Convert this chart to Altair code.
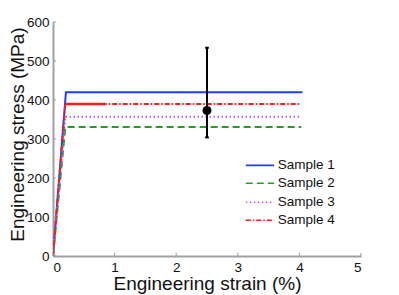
import altair as alt
import pandas as pd

samples = ["Sample 1", "Sample 2", "Sample 3", "Sample 4"]
colors = ["#1f3cff", "#22a022", "#b65cff", "#ff1a1a"]
dashes = [[1, 0], [7, 4], [1.5, 2.5], [5, 2, 1.5, 2]]
yield_strain = [0.21, 0.2, 0.2, 0.2]
yield_stress = [420, 331, 357, 390]
end_strain = [4.05, 4.03, 4.03, 4.03]

# dense (solid-looking) section of sample 4
s4_dense = [0.2, 0.85]

err_x = 2.5
err_mean = 373
err_low = 304
err_high = 534

xticks = [0, 1, 2, 3, 4, 5]
yticks = [0, 100, 200, 300, 400, 500, 600]

# legend placement (in data units of the axes)
leg_x0, leg_x1, leg_xt = 3.13, 3.59, 3.65
leg_y = [232.5, 186.5, 138, 91.5]

rows = []
for i, s in enumerate(samples):
    rows.append({"sample": s, "order": 0, "strain": 0.0, "stress": 0.0})
    rows.append({"sample": s, "order": 1, "strain": yield_strain[i], "stress": yield_stress[i]})
    rows.append({"sample": s, "order": 2, "strain": end_strain[i], "stress": yield_stress[i]})
df = pd.DataFrame(rows)

xs = alt.Scale(domain=[0, 5], nice=False)
ys = alt.Scale(domain=[0, 600], nice=False)
xax = alt.Axis(values=xticks, format="d", labelOverlap=False, title="Engineering strain (%)")
yax = alt.Axis(values=yticks, format="d", labelOverlap=False, title="Engineering stress (MPa)")
cscale = alt.Scale(domain=samples, range=colors)
dscale = alt.Scale(domain=samples, range=dashes)

lines = alt.Chart(df).mark_line(strokeWidth=2, clip=True).encode(
    x=alt.X("strain:Q", scale=xs, axis=xax),
    y=alt.Y("stress:Q", scale=ys, axis=yax),
    color=alt.Color("sample:N", scale=cscale, legend=None),
    strokeDash=alt.StrokeDash("sample:N", scale=dscale, legend=None),
    order="order:Q",
)

dense = alt.Chart(pd.DataFrame({"strain": s4_dense, "stress": [yield_stress[3]] * 2})).mark_line(
    color=colors[3], strokeWidth=2.5).encode(
    x=alt.X("strain:Q", scale=xs, axis=xax), y=alt.Y("stress:Q", scale=ys, axis=yax))

err_df = pd.DataFrame({"x": [err_x], "lo": [err_low], "hi": [err_high], "m": [err_mean]})
err_rule = alt.Chart(err_df).mark_rule(color="black", strokeWidth=2).encode(
    x=alt.X("x:Q", scale=xs, axis=xax), y=alt.Y("lo:Q", scale=ys, axis=yax), y2="hi:Q")
cap_df = pd.DataFrame({"x1": [err_x - 0.03] * 2, "x2": [err_x + 0.03] * 2, "y": [err_low, err_high]})
caps = alt.Chart(cap_df).mark_rule(color="black", strokeWidth=2).encode(
    x=alt.X("x1:Q", scale=xs, axis=xax), x2="x2:Q", y=alt.Y("y:Q", scale=ys, axis=yax))
pt = alt.Chart(err_df).mark_circle(color="black", size=80, opacity=1).encode(
    x=alt.X("x:Q", scale=xs, axis=xax), y=alt.Y("m:Q", scale=ys, axis=yax))

xt = alt.Chart(pd.DataFrame({"v": xticks})).mark_rule(color="#999", strokeWidth=1).encode(
    x=alt.X("v:Q", scale=xs, axis=xax), y=alt.datum(0, scale=ys, axis=yax), y2=alt.datum(8))
yt = alt.Chart(pd.DataFrame({"v": yticks})).mark_rule(color="#999", strokeWidth=1).encode(
    y=alt.Y("v:Q", scale=ys, axis=yax), x=alt.datum(0, scale=xs, axis=xax), x2=alt.datum(0.05))

leg_df = pd.DataFrame({"sample": samples, "y": leg_y, "x0": [leg_x0] * 4,
                       "x1": [leg_x1] * 4, "xt": [leg_xt] * 4})
leg_lines = alt.Chart(leg_df).mark_rule(strokeWidth=1.6).encode(
    x=alt.X("x0:Q", scale=xs, axis=xax), x2="x1:Q", y=alt.Y("y:Q", scale=ys, axis=yax),
    color=alt.Color("sample:N", scale=cscale, legend=None),
    strokeDash=alt.StrokeDash("sample:N", scale=dscale, legend=None))
leg_text = alt.Chart(leg_df).mark_text(align="left", baseline="middle", fontSize=13.5,
                                       font="Liberation Sans", color="#111").encode(
    x=alt.X("xt:Q", scale=xs, axis=xax), y=alt.Y("y:Q", scale=ys, axis=yax), text="sample:N")

chart = alt.layer(lines, xt, yt, dense, err_rule, caps, pt, leg_lines, leg_text).properties(
    width=308, height=234,
    padding={"left": 45, "top": 14, "right": 25, "bottom": 38},
    autosize=alt.AutoSizeParams(type="none"),
).configure_view(stroke=None).configure_axis(
    grid=False, domainColor="#a0a0a0", domainWidth=2, tickSize=0,
    labelFont="Liberation Sans", labelFontSize=13.5, labelColor="#111",
    titleFont="Liberation Sans", titleFontWeight="normal", titleColor="#111",
).configure_axisX(labelPadding=4, labelAngle=0, titleFontSize=19,
                  titleY=33, titleBaseline="alphabetic").configure_axisY(
    labelPadding=4, titleFontSize=19, titleX=-30, titleY=112, titleAngle=270,
    titleBaseline="alphabetic", titleAlign="center")

chart.save("out.html", embed_options={"renderer": "svg", "actions": False})
